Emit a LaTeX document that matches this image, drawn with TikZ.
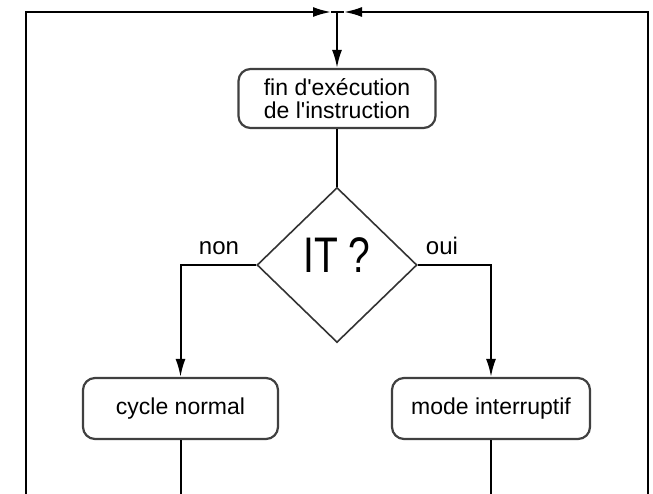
\documentclass[tikz,border=0pt]{standalone}
\usepackage{fontspec}
\setmainfont{Liberation Sans}
\usetikzlibrary{shapes.geometric,arrows.meta}
\begin{document}
\begin{tikzpicture}[x=1pt,y=-1pt,
  conn/.style={line width=2pt,black},
  arr/.style={conn,-{Latex[length=18pt,width=10pt]}},
  roundbox/.style={draw=black!75,line width=2.2pt,rounded corners=12pt,fill=white,
    inner sep=0pt,align=center,font=\fontsize{23}{23}\selectfont},
  decision/.style={draw=black!80,line width=1.6pt,diamond,inner sep=0pt,
    minimum width=160pt,minimum height=155pt,fill=white,
    font=\fontsize{50}{50}\selectfont,text depth=20pt},
  lbl/.style={font=\fontsize{24}{24}\selectfont,inner sep=0pt,anchor=base}]
\useasboundingbox (0,0) rectangle (653,494);
% frame coordinates
\coordinate (botL) at (26,494);
\coordinate (topL) at (331,12);
\coordinate (topM) at (337,12);
\coordinate (topR) at (344,12);
\coordinate (botR) at (648,494);
% nodes
\node[roundbox,minimum width=197pt,minimum height=59pt] (fin) at (337,98.5)
  {fin d\textquotesingle exécution\\de l\textquotesingle instruction};
\node[decision] (it) at (337,265) {\scalebox{0.78}[1]{IT ?}};
\node[roundbox,minimum width=195pt,minimum height=61pt] (cycle) at (180.5,408.5) {cycle normal};
\node[roundbox,minimum width=198pt,minimum height=61pt] (mode) at (491,408.5) {mode interruptif};
\coordinate (cycleout) at (180.5,494);
\coordinate (modeout) at (491,494);
% labels
\node[lbl] (non) at (219,255) {non};
\node[lbl] (oui) at (442,255) {oui};
% connectors
\draw[arr] (botL) |- (topL);
\draw[arr] (botR) |- (topR);
\draw[conn] (topL) -- (topR);
\draw[arr] (topM) -- (fin.north);
\draw[conn] (fin.south) -- (it.north);
\draw[arr] (it.west) -| (cycle.north);
\draw[arr] (it.east) -| (mode.north);
\draw[conn] (cycle.south) -- (cycleout);
\draw[conn] (mode.south) -- (modeout);
\end{tikzpicture}
\end{document}
